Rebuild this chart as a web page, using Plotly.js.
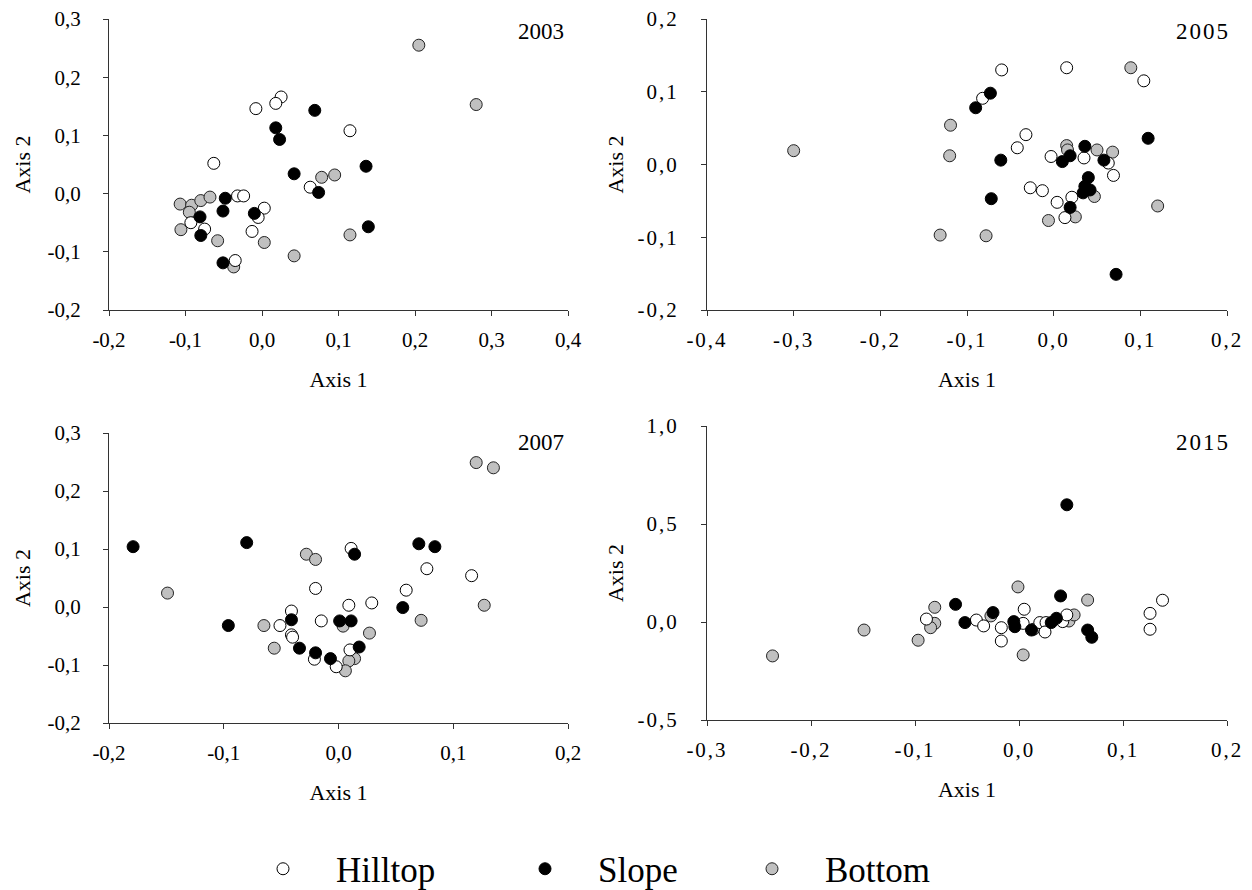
<!DOCTYPE html>
<html>
<head>
<meta charset="utf-8">
<script src="https://cdn.plot.ly/plotly-3.0.1.min.js"></script>
<style>
html, body { margin: 0; padding: 0; background: #fff; }
#chart { width: 1252px; height: 890px; }
#chart text { font-family: 'Liberation Serif', 'Times New Roman', serif !important; }
#chart .x2tick text, #chart .y2tick text, #chart .x4tick text, #chart .y4tick text { letter-spacing: 2px; }
#chart g.annotation[data-index="1"] text, #chart g.annotation[data-index="3"] text { letter-spacing: 2px; }
</style>
</head>
<body>
<div id="chart"></div>
<script>
// ---------- Data ----------
// 2003
const hill2003x = [0.025, 0.018, -0.008, -0.063, 0.063, -0.093, -0.075, -0.032, -0.024, 0.003, -0.005, -0.013, -0.035, 0.115];
const hill2003y = [0.166, 0.155, 0.146, 0.052, 0.011, -0.050, -0.061, -0.004, -0.004, -0.025, -0.041, -0.065, -0.115, 0.108];
const slope2003x = [0.069, 0.018, 0.023, 0.042, 0.074, -0.081, -0.080, -0.048, -0.051, -0.010, -0.051, 0.136, 0.139];
const slope2003y = [0.143, 0.113, 0.093, 0.034, 0.002, -0.040, -0.072, -0.008, -0.030, -0.034, -0.119, 0.047, -0.057];
const bot2003x = [0.078, 0.095, -0.107, -0.092, -0.080, -0.068, -0.095, -0.106, -0.058, 0.003, 0.042, -0.037, 0.205, 0.280, 0.115];
const bot2003y = [0.028, 0.032, -0.018, -0.020, -0.012, -0.006, -0.032, -0.062, -0.081, -0.084, -0.107, -0.126, 0.255, 0.153, -0.071];

// 2005
const hill2005x = [-0.060, 0.015, 0.104, -0.082, -0.032, -0.042, -0.003, 0.035, 0.063, 0.069, -0.027, -0.013, 0.021, 0.004, 0.013];
const hill2005y = [0.130, 0.133, 0.115, 0.091, 0.041, 0.023, 0.011, 0.009, 0.002, -0.015, -0.032, -0.036, -0.045, -0.052, -0.073];
const slope2005x = [-0.073, -0.090, 0.109, -0.061, 0.019, 0.010, 0.036, 0.058, 0.040, 0.036, 0.034, 0.042, 0.019, -0.072, 0.072];
const slope2005y = [0.098, 0.078, 0.036, 0.006, 0.012, 0.004, 0.025, 0.006, -0.018, -0.030, -0.039, -0.035, -0.059, -0.047, -0.151];
const bot2005x = [-0.300, -0.119, -0.120, -0.131, 0.089, 0.015, 0.016, 0.050, 0.068, 0.047, 0.025, -0.006, 0.120, -0.078];
const bot2005y = [0.019, 0.054, 0.012, -0.097, 0.133, 0.026, 0.020, 0.020, 0.017, -0.044, -0.072, -0.077, -0.057, -0.098];

// 2007
const hill2007x = [0.011, 0.077, 0.116, 0.059, 0.009, 0.029, -0.020, -0.041, -0.015, -0.051, -0.041, -0.040, -0.021, -0.002, 0.010];
const hill2007y = [0.101, 0.066, 0.054, 0.029, 0.003, 0.007, 0.032, -0.007, -0.024, -0.032, -0.048, -0.052, -0.090, -0.103, -0.074];
const slope2007x = [-0.179, -0.080, -0.096, -0.041, -0.034, -0.020, -0.007, 0.014, 0.070, 0.084, 0.056, 0.001, 0.011, 0.018];
const slope2007y = [0.104, 0.111, -0.032, -0.022, -0.071, -0.079, -0.089, 0.091, 0.109, 0.104, -0.001, -0.024, -0.024, -0.069];
const bot2007x = [-0.149, -0.028, -0.020, -0.065, -0.056, 0.120, 0.135, 0.127, 0.004, 0.072, 0.027, 0.014, 0.009, 0.006];
const bot2007y = [0.024, 0.091, 0.082, -0.032, -0.071, 0.249, 0.240, 0.003, -0.033, -0.023, -0.045, -0.089, -0.093, -0.110];

// 2015
const hill2015x = [-0.089, 0.138, 0.126, 0.126, 0.005, -0.041, -0.034, -0.017, -0.017, 0.004, 0.020, 0.026, 0.025, 0.042, 0.046];
const hill2015y = [0.015, 0.111, 0.044, -0.037, 0.065, 0.010, -0.020, -0.029, -0.097, -0.007, -0.003, -0.003, -0.051, 0.002, 0.036];
const slope2015x = [0.046, -0.061, 0.040, -0.052, -0.025, -0.005, -0.004, 0.012, 0.031, 0.036, 0.066, 0.070];
const slope2015y = [0.598, 0.090, 0.133, -0.003, 0.048, 0.002, -0.024, -0.041, -0.003, 0.019, -0.041, -0.078];
const bot2015x = [-0.237, -0.149, -0.097, -0.081, -0.081, -0.085, -0.001, 0.066, -0.027, 0.004, 0.014, 0.048, 0.053];
const bot2015y = [-0.173, -0.041, -0.093, 0.075, -0.007, -0.029, 0.179, 0.112, 0.031, -0.168, -0.037, 0.005, 0.036];

// Panel labels and tick labels
const yearLabels = ['2003', '2005', '2007', '2015'];
const groupNames = ['Hilltop', 'Slope', 'Bottom'];
const xTicks1 = [-0.2, -0.1, 0.0, 0.1, 0.2, 0.3, 0.4];
const xTickText1 = ['-0,2', '-0,1', '0,0', '0,1', '0,2', '0,3', '0,4'];
const yTicks1 = [-0.2, -0.1, 0.0, 0.1, 0.2, 0.3];
const yTickText1 = ['-0,2', '-0,1', '0,0', '0,1', '0,2', '0,3'];
const xTicks2 = [-0.4, -0.3, -0.2, -0.1, 0.0, 0.1, 0.2];
const xTickText2 = ['-0,4', '-0,3', '-0,2', '-0,1', '0,0', '0,1', '0,2'];
const yTicks2 = [-0.2, -0.1, 0.0, 0.1, 0.2];
const yTickText2 = ['-0,2', '-0,1', '0,0', '0,1', '0,2'];
const xTicks3 = [-0.2, -0.1, 0.0, 0.1, 0.2];
const xTickText3 = ['-0,2', '-0,1', '0,0', '0,1', '0,2'];
const yTicks3 = [-0.2, -0.1, 0.0, 0.1, 0.2, 0.3];
const yTickText3 = ['-0,2', '-0,1', '0,0', '0,1', '0,2', '0,3'];
const xTicks4 = [-0.3, -0.2, -0.1, 0.0, 0.1, 0.2];
const xTickText4 = ['-0,3', '-0,2', '-0,1', '0,0', '0,1', '0,2'];
const yTicks4 = [-0.5, 0.0, 0.5, 1.0];
const yTickText4 = ['-0,5', '0,0', '0,5', '1,0'];
const axisTitleX = 'Axis 1';
const axisTitleY = 'Axis 2';

// ---------- Styling ----------
const FONT = 'Liberation Serif';
const styles = {
  Hilltop: { fill: '#ffffff', line: '#000000', legend: 'legend' },
  Slope:   { fill: '#000000', line: '#000000', legend: 'legend2' },
  Bottom:  { fill: '#c0c0c0', line: '#222222', legend: 'legend3' }
};

const panels = [
  { xa: 'x',  ya: 'y',  hill: [hill2003x, hill2003y], slope: [slope2003x, slope2003y], bot: [bot2003x, bot2003y] },
  { xa: 'x2', ya: 'y2', hill: [hill2005x, hill2005y], slope: [slope2005x, slope2005y], bot: [bot2005x, bot2005y] },
  { xa: 'x3', ya: 'y3', hill: [hill2007x, hill2007y], slope: [slope2007x, slope2007y], bot: [bot2007x, bot2007y] },
  { xa: 'x4', ya: 'y4', hill: [hill2015x, hill2015y], slope: [slope2015x, slope2015y], bot: [bot2015x, bot2015y] }
];

const traces = [];
panels.forEach((p, i) => {
  const order = [['Bottom', p.bot], ['Hilltop', p.hill], ['Slope', p.slope]];
  order.forEach(([name, d]) => {
    const s = styles[name];
    traces.push({
      type: 'scatter', mode: 'markers',
      x: d[0], y: d[1],
      xaxis: p.xa, yaxis: p.ya,
      name: name, legendgroup: name, legend: s.legend,
      showlegend: i === 0,
      marker: { symbol: 'circle', size: 12, color: s.fill, line: { color: s.line, width: 1 } },
      hoverinfo: 'x+y+name'
    });
  });
});

function xAxis(domain, anchor, range, tv, tt) {
  return {
    domain: domain, anchor: anchor, range: range,
    tickmode: 'array', tickvals: tv, ticktext: tt,
    showline: true, linecolor: '#333', linewidth: 1.3,
    ticks: 'outside', ticklen: 5, tickcolor: '#333', tickwidth: 1.3,
    showgrid: false, zeroline: false,
    tickfont: { family: FONT, size: 21, color: '#000' },
    ticklabelstandoff: 6,
    title: { text: axisTitleX, font: { family: FONT, size: 22, color: '#000' }, standoff: 20 },
    automargin: false, fixedrange: true
  };
}
function yAxis(domain, anchor, range, tv, tt, standoff) {
  return {
    domain: domain, anchor: anchor, range: range,
    tickmode: 'array', tickvals: tv, ticktext: tt,
    showline: true, linecolor: '#333', linewidth: 1.3,
    ticks: 'outside', ticklen: 5, tickcolor: '#333', tickwidth: 1.3,
    showgrid: false, zeroline: false,
    tickfont: { family: FONT, size: 21, color: '#000' },
    ticklabelstandoff: 18,
    title: { text: axisTitleY, font: { family: FONT, size: 22, color: '#000' }, standoff: standoff },
    automargin: false, fixedrange: true
  };
}

const W = 1252, H = 890;
const px = v => v / W;
const py = v => 1 - v / H;

const leftX = [px(109), px(568)];
const rightX = [px(707), px(1227)];
const topY = [py(310), py(19)];
const botYL = [py(723), py(433)];
const botYR = [py(720), py(426)];

const ITEMW = 96;
const legendBase = {
  orientation: 'h', yanchor: 'middle', xanchor: 'left',
  xref: 'container', yref: 'container',
  y: py(869), font: { family: FONT, size: 35, color: '#000' },
  bgcolor: 'rgba(0,0,0,0)', borderwidth: 0, itemwidth: ITEMW,
  itemclick: false, itemdoubleclick: false
};
const markerOffset = ITEMW / 2 + 5;

const yearFont = { family: FONT, size: 23, color: '#000' };
const annotations = [
  { text: yearLabels[0], x: px(566), y: py(31) },
  { text: yearLabels[1], x: px(1228), y: py(31) },
  { text: yearLabels[2], x: px(566), y: py(442) },
  { text: yearLabels[3], x: px(1228), y: py(442) }
].map(a => Object.assign(a, { xref: 'paper', yref: 'paper', xanchor: 'right', yanchor: 'middle', showarrow: false, font: yearFont }));

const layout = {
  width: W, height: H,
  margin: { l: 0, r: 0, t: 0, b: 0, pad: 0, autoexpand: false },
  paper_bgcolor: '#fff', plot_bgcolor: '#fff',
  showlegend: true,
  font: { family: FONT, color: '#000' },
  xaxis:  xAxis(leftX, 'y', [-0.2, 0.4], xTicks1, xTickText1),
  yaxis:  yAxis(topY, 'x', [-0.2, 0.3], yTicks1, yTickText1, 10),
  xaxis2: xAxis(rightX, 'y2', [-0.4, 0.2], xTicks2, xTickText2),
  yaxis2: yAxis(topY, 'x2', [-0.2, 0.2], yTicks2, yTickText2, 15),
  xaxis3: xAxis(leftX, 'y3', [-0.2, 0.2], xTicks3, xTickText3),
  yaxis3: yAxis(botYL, 'x3', [-0.2, 0.3], yTicks3, yTickText3, 10),
  xaxis4: xAxis(rightX, 'y4', [-0.3, 0.2], xTicks4, xTickText4),
  yaxis4: yAxis(botYR, 'x4', [-0.5, 1.0], yTicks4, yTickText4, 15),
  legend:  Object.assign({}, legendBase, { x: px(283 - markerOffset) }),
  legend2: Object.assign({}, legendBase, { x: px(545 - markerOffset) }),
  legend3: Object.assign({}, legendBase, { x: px(772 - markerOffset) }),
  annotations: annotations
};

Plotly.newPlot('chart', traces, layout, { displayModeBar: false, staticPlot: false, responsive: false });
</script>
</body>
</html>
